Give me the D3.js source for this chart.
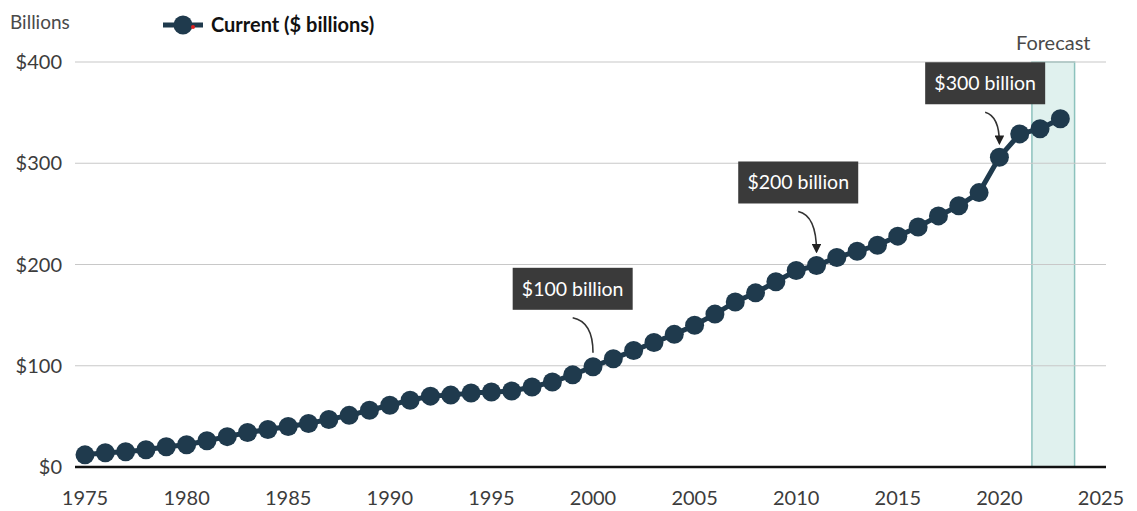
<!DOCTYPE html>
<html lang="en">
<head>
<meta charset="UTF-8">
<title>Current ($ billions)</title>
<script src="https://d3js.org/d3.v7.min.js"></script>
<style>
  body { margin: 0; background: #fff; font-family: Lato, "Open Sans", sans-serif; }
  svg text { font-family: Lato, "Open Sans", sans-serif; }
</style>
</head>
<body>
<div id="chart"></div>
<script>
const years = d3.range(1975, 2024);
const values = [12, 14, 15, 17, 20, 22, 26, 30, 34, 37,
                40, 43, 47, 51, 56, 61, 66, 70, 71, 73,
                74, 75, 79, 84, 91, 99, 107, 115, 123, 131,
                140, 151, 163, 172, 183, 194, 199, 207, 213, 219,
                228, 237, 248, 258, 271, 306, 329, 334, 344];
const yTicks = [0, 100, 200, 300, 400];
const xTicks = [1975, 1980, 1985, 1990, 1995, 2000, 2005, 2010, 2015, 2020, 2025];
const forecastRange = [2021.6, 2023.7];
// label, year the arrow points to, box centre (year, value), arrowhead?
const notes = [
  { label: "$100 billion", year: 2000, boxYear: 1999.0, boxVal: 176, head: false },
  { label: "$200 billion", year: 2011, boxYear: 2010.1, boxVal: 281, head: true },
  { label: "$300 billion", year: 2020, boxYear: 2019.3, boxVal: 379, head: true }
];

const W = 1137, H = 511;
const svg = d3.select("#chart").append("svg").attr("width", W).attr("height", H);

const x = d3.scaleLinear().domain([1975, 2025]).range([85, 1101]);
const y = d3.scaleLinear().domain([0, 400]).range([467, 62]);
const left = 75, right = 1106;
const navy = "#1f3a4d";

// forecast band
svg.append("rect")
  .attr("x", x(forecastRange[0])).attr("y", y(400))
  .attr("width", x(forecastRange[1]) - x(forecastRange[0]))
  .attr("height", y(0) - y(400))
  .attr("fill", "#e0f1ee").attr("stroke", "#8cc2bd").attr("stroke-width", 1.5);

svg.append("text")
  .attr("x", x((forecastRange[0] + forecastRange[1]) / 2)).attr("y", 50)
  .attr("text-anchor", "middle").attr("font-size", 20).attr("fill", "#4a4a4a")
  .text("Forecast");

// gridlines
svg.append("g").selectAll("line").data(yTicks.filter(d => d > 0)).join("line")
  .attr("x1", left).attr("x2", right)
  .attr("y1", d => y(d)).attr("y2", d => y(d))
  .attr("stroke", "#c8c8c8").attr("stroke-width", 1.2);

svg.append("line")
  .attr("x1", left).attr("x2", right).attr("y1", y(0)).attr("y2", y(0))
  .attr("stroke", "#111").attr("stroke-width", 2.5);

// y labels
svg.append("g").selectAll("text").data(yTicks).join("text")
  .attr("x", 62).attr("y", d => y(d) + 7)
  .attr("text-anchor", "end").attr("font-size", 20).attr("fill", "#3c3c3c")
  .text(d => "$" + d);

svg.append("text").attr("x", 10).attr("y", 29)
  .attr("font-size", 19).attr("fill", "#4a4a4a").text("Billions");

// x labels
svg.append("g").selectAll("text").data(xTicks).join("text")
  .attr("x", d => x(d)).attr("y", 505)
  .attr("text-anchor", "middle").attr("font-size", 20).attr("fill", "#3c3c3c")
  .text(d => d);

// series
const line = d3.line().x((d, i) => x(years[i])).y(d => y(d));
svg.append("path").datum(values)
  .attr("d", line).attr("fill", "none")
  .attr("stroke", navy).attr("stroke-width", 5);

svg.append("g").selectAll("circle").data(values).join("circle")
  .attr("cx", (d, i) => x(years[i])).attr("cy", d => y(d))
  .attr("r", 9.5).attr("fill", navy);

// annotations
svg.append("defs").append("marker")
  .attr("id", "arrow").attr("viewBox", "0 0 10 10")
  .attr("refX", 8).attr("refY", 5)
  .attr("markerWidth", 6).attr("markerHeight", 6)
  .attr("orient", "auto")
  .append("path").attr("d", "M0,0 L10,5 L0,10 z").attr("fill", "#222");

notes.forEach(n => {
  const cx = x(n.boxYear), cy = y(n.boxVal);
  const bw = 120, bh = 42;
  svg.append("rect")
    .attr("x", cx - bw / 2).attr("y", cy - bh / 2)
    .attr("width", bw).attr("height", bh).attr("fill", "#3a3a3a");
  svg.append("text")
    .attr("x", cx).attr("y", cy + 7)
    .attr("text-anchor", "middle").attr("font-size", 19.5).attr("fill", "#fff")
    .text(n.label);
  const vi = years.indexOf(n.year);
  const ex = x(n.year), ey = y(values[vi]) - 14;
  const sx = cx, sy = cy + bh / 2 + 8;
  svg.append("path")
    .attr("d", `M${sx},${sy} Q${ex},${sy + 4} ${ex},${ey}`)
    .attr("fill", "none").attr("stroke", "#333").attr("stroke-width", 1.6)
    .attr("marker-end", n.head ? "url(#arrow)" : null);
});

// legend
const lg = svg.append("g");
lg.append("line").attr("x1", 163).attr("x2", 203).attr("y1", 25).attr("y2", 25)
  .attr("stroke", navy).attr("stroke-width", 5);
lg.append("circle").attr("cx", 183).attr("cy", 25).attr("r", 9.5).attr("fill", navy);
lg.append("circle").attr("cx", 193).attr("cy", 27).attr("r", 2).attr("fill", "#e0201f");
lg.append("text").attr("x", 211).attr("y", 32)
  .attr("font-size", 20).attr("font-weight", "bold").attr("fill", "#111")
  .text("Current ($ billions)");
</script>
</body>
</html>
